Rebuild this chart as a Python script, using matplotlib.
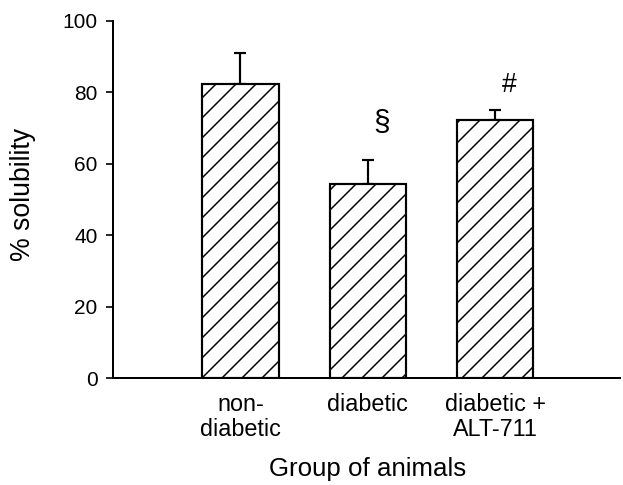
#! /usr/bin/env python3

# Solubility bar chart: three animal groups, hatched bars with SEM bars up

import matplotlib
matplotlib.use("Agg")
import matplotlib.pyplot as plt

groups = ["non-\ndiabetic", "diabetic", "diabetic +\nALT-711"]
solubility = [82.3, 54.3, 72.3]
sem = [8.8, 6.8, 2.9]
marks = ["", "\u00a7", "#"]
mark_y = [0, 71.4, 82.0]
mark_size = [0, 18, 16]


def main():
    plt.rcParams['font.family'] = ['Liberation Sans', 'DejaVu Sans']
    dpi = 120
    fig = plt.figure(figsize=(623 / dpi, 485 / dpi), dpi=dpi)
    ax = fig.add_axes([0.1814, 0.22, 0.8136, 0.737])

    pos = list(range(len(groups)))
    plt.rcParams['hatch.linewidth'] = 0.9
    ax.bar(pos, solubility, width=0.6, color='white', edgecolor='black',
           linewidth=1.3, hatch='//', zorder=2)
    ax.errorbar(pos, solubility, yerr=[[0] * len(sem), sem], fmt='none',
                ecolor='black', elinewidth=1.3, capsize=3.8, capthick=1.3,
                zorder=1)

    for x, m, y, s in zip(pos, marks, mark_y, mark_size):
        if m:
            ax.text(x + 0.11, y, m, ha='center', va='center', fontsize=s)

    ax.set_xlim(-1.0, 2.98)
    ax.set_ylim(0, 100)
    ax.set_yticks([0, 20, 40, 60, 80, 100])
    ax.set_xticks(pos)
    ax.set_xticklabels(groups, fontsize=14, linespacing=1.1)
    ax.tick_params(axis='x', length=0, pad=9)
    ax.tick_params(axis='y', length=4.2, width=1.0, labelsize=12.5,
                   direction='out', pad=5)

    for side in ['top', 'right']:
        ax.spines[side].set_visible(False)
    for side in ['left', 'bottom']:
        ax.spines[side].set_linewidth(1.2)

    ax.set_ylabel('% solubility', fontsize=16, va='center')
    ax.yaxis.set_label_coords(-0.178, 0.515)
    ax.set_xlabel('Group of animals', fontsize=15.5)
    ax.xaxis.set_label_coords(0.502, -0.22)

    fig.savefig('out.png', dpi=dpi)
    plt.close(fig)


if __name__ == '__main__':
    main()
